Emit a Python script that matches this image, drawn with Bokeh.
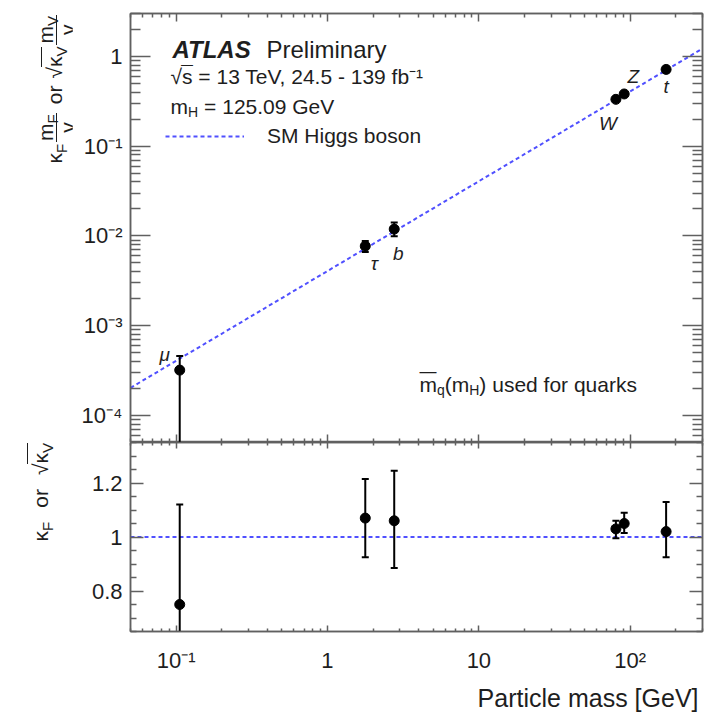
import math
from bokeh.plotting import figure
from bokeh.models import (ColumnDataSource, FixedTicker, LogAxis, LinearAxis, Label,
                          Legend, LegendItem, Range1d, Title, Div)
from bokeh.layouts import column, row
from bokeh.embed import file_html
from bokeh.resources import INLINE

# ---------------- data ----------------
particles = ["μ", "τ", "b", "W", "Z", "t"]
mass = [0.1057, 1.777, 2.76, 80.38, 91.19, 172.5]
coupling = [3.2e-4, 7.7e-3, 1.19e-2, 0.332, 0.381, 0.715]
coupling_lo = [1e-5, 6.6e-3, 9.9e-3, 0.327, 0.374, 0.66]
coupling_hi = [4.6e-4, 8.8e-3, 1.41e-2, 0.337, 0.388, 0.77]
kappa = [0.75, 1.07, 1.06, 1.03, 1.05, 1.02]
kappa_lo = [0.10, 0.925, 0.885, 0.995, 1.015, 0.925]
kappa_hi = [1.12, 1.215, 1.245, 1.06, 1.09, 1.13]
sm_mass = [0.05, 300.0]
sm_coupling = [2.03e-4, 1.22]
sm_ratio = [1.0, 1.0]

x_major = [0.1, 1, 10, 100]
x_major_labels = ["10⁻¹", "1", "10", "10²"]
y_major = [1e-4, 1e-3, 1e-2, 1e-1, 1]
y_major_labels = ["10⁻⁴", "10⁻³", "10⁻²", "10⁻¹", "1"]
ratio_major = [0.8, 1.0, 1.2]
ratio_major_labels = ["0.8", "1", "1.2"]
ratio_minor = [0.65, 0.7, 0.75, 0.85, 0.9, 0.95, 1.05, 1.1, 1.15, 1.25, 1.3, 1.35]

# ---------------- style ----------------
FONT = "Liberation Sans"
TXT = "#1e1e1e"
AX = "#606060"
BLUE = "#5050ff"
DASH = "4 3"

x_minor = [m * 10.0 ** e for e in range(-2, 3) for m in range(2, 10)]
y_minor = [m * 10.0 ** e for e in range(-5, 1) for m in range(2, 10)]

EMW = {' ': .278, 'a': .556, 'b': .556, 'c': .5, 'd': .556, 'e': .556, 'f': .278, 'g': .556,
       'h': .556, 'i': .222, 'k': .5, 'l': .222, 'm': .833, 'n': .556, 'o': .556, 'p': .556,
       'q': .556, 'r': .333, 's': .5, 't': .278, 'u': .556, 'v': .5, 'y': .5, '(': .333,
       ')': .333, '=': .584, '.': .278, ',': .278, '-': .333, 'F': .611, 'V': .667, 'H': .722,
       'κ': .52, '√': .549}


def tw(s, size):
    return sum(EMW.get(c, .556) for c in s) * size


def put(fig, text, x, y, size, style="normal"):
    fig.add_layout(Label(x=x, y=y, x_units="screen", y_units="screen", text=text,
                         text_font=FONT, text_font_size=f"{size}px",
                         text_font_style=style, text_color=TXT, text_align="left",
                         text_baseline="alphabetic"))


def run(fig, pieces, x0, y0):
    adv = 0.0
    for text, size, shift in pieces:
        if text is None:          # plain horizontal gap of `size` pixels
            adv += size
            continue
        put(fig, text, x0 + adv, y0 + shift, size)
        adv += tw(text, size)
    return adv


def style_axis(ax, major_in, minor_in, show_labels=True, standoff=8, size=22):
    ax.axis_line_color = AX
    ax.axis_line_width = 1.5
    ax.major_tick_line_color = AX
    ax.minor_tick_line_color = AX
    ax.major_tick_line_width = 1.5
    ax.minor_tick_line_width = 1.5
    ax.major_tick_in = major_in
    ax.major_tick_out = 0
    ax.minor_tick_in = minor_in
    ax.minor_tick_out = 0
    if show_labels:
        ax.major_label_text_font = FONT
        ax.major_label_text_font_size = f"{size}px"
        ax.major_label_text_color = TXT
        ax.major_label_standoff = standoff
    else:
        ax.major_label_text_font_size = "1px"
        ax.major_label_text_alpha = 0
        ax.major_label_standoff = 0


LB, RB = 58, 12
xr = Range1d(0.05, 300)

# ---------------- upper panel ----------------
p1 = figure(x_axis_type="log", y_axis_type="log", x_range=xr, y_range=Range1d(5e-5, 3),
            width=LB + 572 + RB, height=442, min_border_left=LB, min_border_right=RB,
            min_border_top=13, min_border_bottom=0, output_backend="svg",
            toolbar_location=None)
p1.grid.visible = False
p1.outline_line_color = AX
p1.outline_line_width = 1.5

xt = FixedTicker(ticks=x_major, minor_ticks=x_minor)
yt = FixedTicker(ticks=y_major, minor_ticks=y_minor)
p1.xaxis.ticker = xt
p1.yaxis.ticker = yt
p1.yaxis.major_label_overrides = dict(zip(y_major, y_major_labels))
style_axis(p1.xaxis[0], 8, 4, show_labels=False)
style_axis(p1.yaxis[0], 20, 10, standoff=8)
top1 = LogAxis(ticker=xt)
style_axis(top1, 8, 4, show_labels=False)
p1.add_layout(top1, "above")
right1 = LogAxis(ticker=yt)
style_axis(right1, 20, 10, show_labels=False)
p1.add_layout(right1, "right")

sm1 = p1.line(sm_mass, sm_coupling, line_color=BLUE, line_width=2, line_dash=DASH)

src1 = ColumnDataSource(dict(m=mass, v=coupling, lo=coupling_lo, hi=coupling_hi))
p1.segment(x0="m", y0="lo", x1="m", y1="hi", source=src1, line_color="black", line_width=2)
p1.scatter(x="m", y="hi", source=src1, marker="dash", size=7, line_color="black", line_width=2)
p1.scatter(x="m", y="lo", source=src1, marker="dash", size=7, line_color="black", line_width=2)
p1.scatter(x="m", y="v", source=src1, marker="circle", size=10, color="black")

label_offsets = {"μ": (-15, -16), "τ": (9, 17), "b": (4, 24), "W": (-8, 24),
                 "Z": (9, -17), "t": (0, 17)}
for name, mx, my in zip(particles, mass, coupling):
    dx, dy = label_offsets[name]
    p1.add_layout(Label(x=mx, y=my, text=name, x_offset=dx, y_offset=-dy,
                        text_font=FONT, text_font_size="19px", text_font_style="italic",
                        text_color=TXT, text_align="center", text_baseline="middle"))

legend = Legend(items=[LegendItem(label="SM Higgs boson", renderers=[sm1])],
                location=(35, 294), glyph_width=79, glyph_height=20, label_standoff=23,
                label_text_font=FONT, label_text_font_size="21px", label_text_color=TXT,
                border_line_alpha=0, background_fill_alpha=0, padding=0, margin=0,
                label_height=20)
p1.add_layout(legend)

# header texts (frame-relative screen units)
put(p1, "ATLAS", 42, 393, 24, style="bold italic")
put(p1, "Preliminary", 136, 393, 24)
a = run(p1, [("√", 21, 0)], 40, 366)
put(p1, "—", 40 + a - 1, 366 + 12, 12)
run(p1, [("s = 13 TeV, 24.5 - 139 fb⁻¹", 21, 0)], 40 + a, 366)
run(p1, [("m", 21, 0), ("H", 14, -5), (None, 6, 0), ("= 125.09 GeV", 21, 0)], 40, 336)

# m̄_q(m_H) used for quarks
put(p1, "—", 289, 58 + 13, 17)
run(p1, [("m", 21, 0), ("q", 14, -5), ("(m", 21, 0), ("H", 14, -5),
         (") used for quarks", 21, 0)], 289, 58)

# ---------------- lower panel ----------------
p2 = figure(x_axis_type="log", x_range=xr, y_range=Range1d(0.65, 1.35),
            width=LB + 572 + RB, height=275, min_border_left=LB, min_border_right=RB,
            min_border_top=0, min_border_bottom=84, output_backend="svg",
            toolbar_location=None)
p2.grid.visible = False
p2.outline_line_color = AX
p2.outline_line_width = 1.5

rt = FixedTicker(ticks=ratio_major, minor_ticks=ratio_minor)
p2.xaxis.ticker = xt
p2.xaxis.major_label_overrides = dict(zip(x_major, x_major_labels))
p2.yaxis.ticker = rt
p2.yaxis.major_label_overrides = dict(zip(ratio_major, ratio_major_labels))
style_axis(p2.xaxis[0], 6, 3, standoff=16)
style_axis(p2.yaxis[0], 13, 6, standoff=8)
top2 = LogAxis(ticker=xt)
style_axis(top2, 6, 3, show_labels=False)
p2.add_layout(top2, "above")
right2 = LinearAxis(ticker=rt)
style_axis(right2, 13, 6, show_labels=False)
p2.add_layout(right2, "right")

p2.line(sm_mass, sm_ratio, line_color=BLUE, line_width=2, line_dash=DASH)
src2 = ColumnDataSource(dict(m=mass, v=kappa, lo=kappa_lo, hi=kappa_hi))
p2.segment(x0="m", y0="lo", x1="m", y1="hi", source=src2, line_color="black", line_width=2)
p2.scatter(x="m", y="hi", source=src2, marker="dash", size=7, line_color="black", line_width=2)
p2.scatter(x="m", y="lo", source=src2, marker="dash", size=7, line_color="black", line_width=2)
p2.scatter(x="m", y="v", source=src2, marker="circle", size=10, color="black")

p2.add_layout(Title(text="Particle mass [GeV]", align="right", text_font=FONT,
                    text_font_size="25px", text_font_style="normal", text_color=TXT,
                    offset=4, standoff=12), "below")

# ---------------- rotated y titles (HTML) ----------------
LINE = f"1.5px solid {TXT}"
SUB = 'style="font-size:15px;line-height:0;vertical-align:-5px"'


def frac(num, den):
    return ('<span style="display:inline-block;vertical-align:middle;text-align:center;'
            'margin:0 2px">'
            f'<span style="display:block;border-bottom:{LINE};padding:0 1px">{num}</span>'
            f'<span style="display:block">{den}</span></span>')


def sqrt(inner):
    return f'√<span style="border-top:{LINE};padding-top:1px">{inner}</span>'


SP = '<span style="display:inline-block;width:7px"></span>'
upper_title = ('κ<sub ' + SUB + '>F</sub>' + frac('m<sub ' + SUB + '>F</sub>', 'v') +
               SP + 'or' + SP + sqrt('κ<sub ' + SUB + '>V</sub>') +
               frac('m<sub ' + SUB + '>V</sub>', 'v'))
lower_title = ('κ<sub ' + SUB + '>F</sub>' + SP + SP + 'or' + SP + SP +
               sqrt('κ<sub ' + SUB + '>V</sub>'))

BOX = (f"position:absolute;transform:rotate(-90deg);transform-origin:0 0;text-align:right;"
       f"white-space:nowrap;font-family:'{FONT}';font-size:21px;line-height:1;color:{TXT};")
html = ('<div style="position:relative;width:72px;height:717px;overflow:visible">'
        f'<div style="{BOX}left:35px;top:313px;width:300px">{upper_title}</div>'
        f'<div style="{BOX}left:30px;top:643px;width:200px">{lower_title}</div>'
        '</div>')
titles = Div(text=html, width=72, height=717, margin=0)

layout = row(titles, column(p1, p2, spacing=0), spacing=0)
open("out.html", "w").write(file_html(layout, INLINE))
